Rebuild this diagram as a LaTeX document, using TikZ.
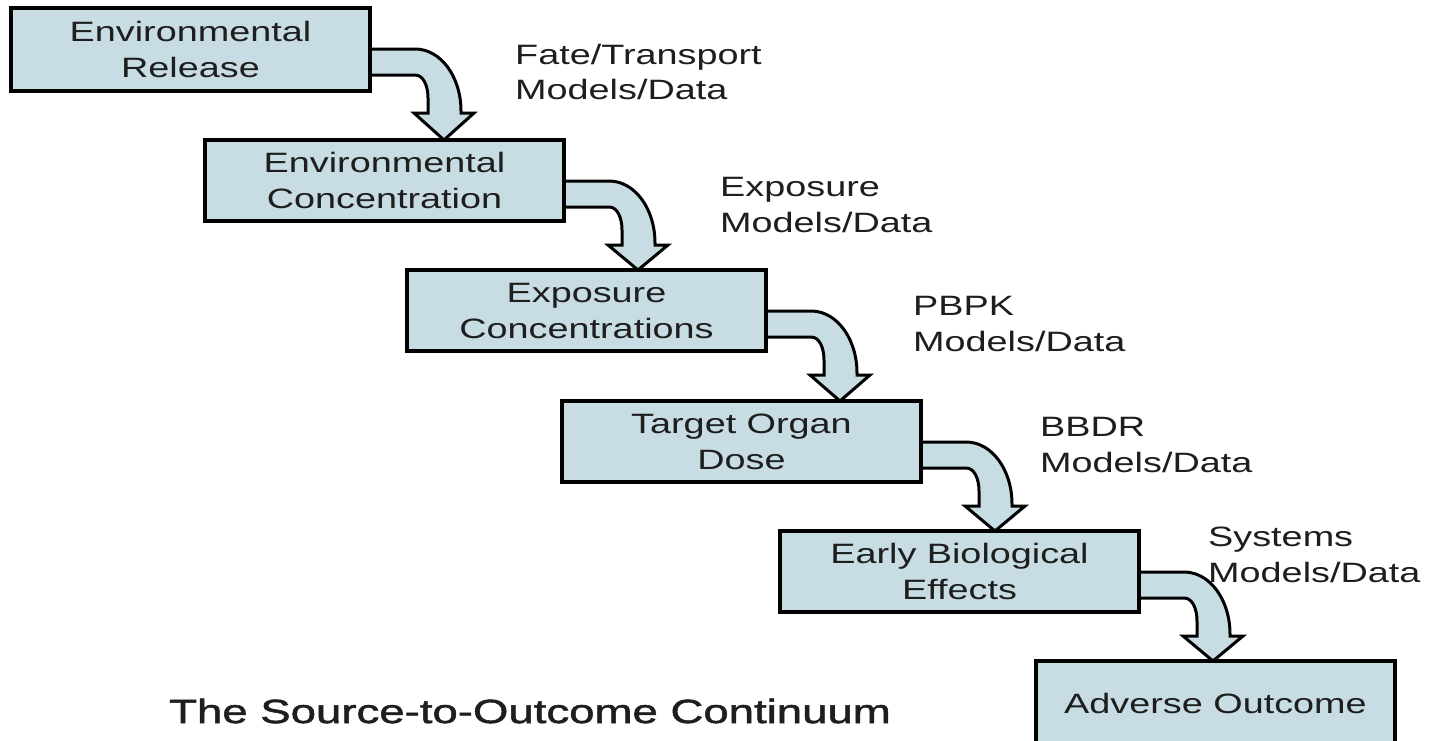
\documentclass[tikz,border=0pt]{standalone}
\usepackage{fontspec}
\setmainfont{Liberation Sans}[FakeStretch=1.35]
\newfontfamily\titlefont{Liberation Sans}[FakeStretch=1.36,FakeBold=1.6]
\usetikzlibrary{calc,backgrounds}
\definecolor{boxfill}{RGB}{200,221,227}
\definecolor{txt}{RGB}{30,30,30}
\tikzset{
  box/.style={draw=black, line width=3.2pt, fill=boxfill, minimum width=359pt,
    minimum height=81pt, anchor=north west, align=center, inner sep=0pt,
    outer sep=0pt, text=txt, font=\fontsize{28}{36}\selectfont},
  lbl/.style={anchor=west, align=left, inner sep=0pt, text=txt,
    font=\fontsize{28}{35.5}\selectfont},
  barrow/.style={fill=boxfill, draw=black, line width=3pt, line join=miter},
}
\newcommand{\flowarrow}[2]{%
  \coordinate (t#1) at ($(#1.north east)+(74,0)$);
  \draw[barrow] ($(#1.north east)+(0,41)$) -- ($(#1.north east)+(45,41)$)
    .. controls ($(#1.north east)+(71,41)$) and ($(#1.north east)+(91,69)$) .. ($(#1.north east)+(91,103)$)
    -- ($(#1.north east)+(91,105)$) -- ($(#1.north east)+(104,105)$)
    -- (t#1 |- #2.north)
    -- ($(#1.north east)+(44,105)$) -- ($(#1.north east)+(58,105)$) -- ($(#1.north east)+(58,90)$)
    .. controls ($(#1.north east)+(58,77)$) and ($(#1.north east)+(53,67)$) .. ($(#1.north east)+(45,67)$)
    -- ($(#1.north east)+(0,67)$) -- cycle;}
\begin{document}
\begin{tikzpicture}[x=1pt,y=-1pt]
\useasboundingbox (0,0) rectangle (1433,740);
\clip (0,0) rectangle (1433,740);
% boxes
\node[box, minimum height=83pt] (b1) at (11,8) {Environmental\\Release};
\node[box] (b2) at (205,140) {Environmental\\Concentration};
\node[box] (b3) at (407,270) {Exposure\\Concentrations};
\node[box] (b4) at (562,401) {Target Organ\\Dose};
\node[box] (b5) at (780,531) {Early Biological\\Effects};
\node[box, minimum height=84pt] (b6) at (1036,661) {Adverse Outcome};
% arrows
\begin{scope}[on background layer]
  \fill[white] (0,0) rectangle (1433,740);
  \flowarrow{b1}{b2}
  \flowarrow{b2}{b3}
  \flowarrow{b3}{b4}
  \flowarrow{b4}{b5}
  \flowarrow{b5}{b6}
\end{scope}
% labels
\node[lbl] (l1) at (515,72) {Fate/Transport\\Models/Data};
\node[lbl] (l2) at (720,205) {Exposure\\Models/Data};
\node[lbl] (l3) at (913,324) {PBPK\\Models/Data};
\node[lbl] (l4) at (1040,445) {BBDR\\Models/Data};
\node[lbl] (l5) at (1208,555) {Systems\\Models/Data};
% title
\node[anchor=base west, inner sep=0pt, text=txt, font=\titlefont\fontsize{33.5}{40}\selectfont] (title) at (169,723) {The Source-to-Outcome Continuum};
\end{tikzpicture}
\end{document}
